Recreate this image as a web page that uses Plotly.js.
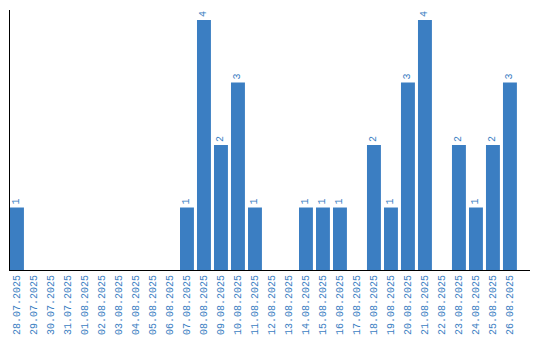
<!DOCTYPE html>
<html><head><meta charset="utf-8">
<script src="https://cdn.plot.ly/plotly-3.0.1.min.js"></script>
<style>html,body{margin:0;padding:0;background:#fff}#c{width:540px;height:340px}</style>
</head><body><div id="c"></div>
<script>
const dates = ["28.07.2025","29.07.2025","30.07.2025","31.07.2025","01.08.2025","02.08.2025","03.08.2025","04.08.2025","05.08.2025","06.08.2025","07.08.2025","08.08.2025","09.08.2025","10.08.2025","11.08.2025","12.08.2025","13.08.2025","14.08.2025","15.08.2025","16.08.2025","17.08.2025","18.08.2025","19.08.2025","20.08.2025","21.08.2025","22.08.2025","23.08.2025","24.08.2025","25.08.2025","26.08.2025"];
const counts = [1,0,0,0,0,0,0,0,0,0,1,4,2,3,1,0,0,1,1,1,0,2,1,3,4,0,2,1,2,3];
const labels = counts.map(v => v > 0 ? String(v) : "");
const blue = "#3b7ec2";
const trace = {
  type: "bar", x: dates, y: counts, text: labels,
  textposition: "outside", textangle: -90, cliponaxis: false,
  textfont: {family: "Liberation Mono, monospace", size: 10, color: blue},
  marker: {color: blue}, hoverinfo: "none"
};
const layout = {
  width: 540, height: 340,
  margin: {l: 10, r: 10, t: 10, b: 70},
  paper_bgcolor: "#fff", plot_bgcolor: "#fff",
  bargap: 0.18, showlegend: false,
  xaxis: {type: "category", range: [-0.41, 30.18], showline: true, linecolor: "#000", linewidth: 1,
    ticks: "", tickangle: -90, showgrid: false, zeroline: false,
    tickfont: {family: "Liberation Mono, monospace", size: 10, color: blue}},
  yaxis: {range: [0, 4.16], showline: true, linecolor: "#000", linewidth: 1,
    showticklabels: false, ticks: "", showgrid: false, zeroline: false}
};
Plotly.newPlot("c", [trace], layout, {displayModeBar: false, staticPlot: true});
</script></body></html>
